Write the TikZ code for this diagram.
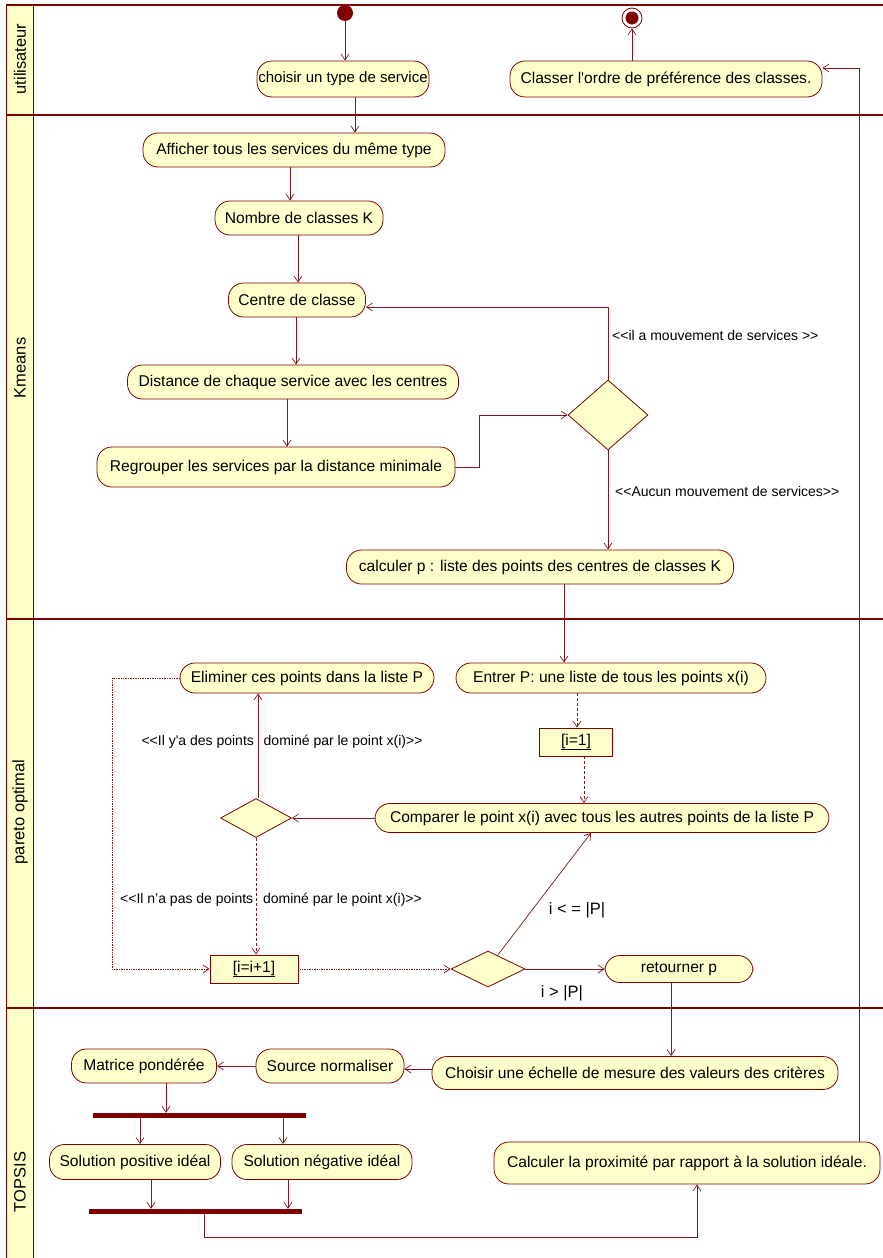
\documentclass[tikz,border=0pt]{standalone}
\usepackage{fontspec}
\setmainfont{Liberation Sans}[Ligatures=TeXOff]
\usetikzlibrary{arrows.meta,shapes.geometric}

\definecolor{umlred}{RGB}{128,0,0}
\definecolor{umlfill}{RGB}{255,255,204}
\definecolor{lanefill}{RGB}{255,255,200}
\definecolor{wire}{RGB}{128,24,24}

\tikzset{
  act/.style={draw=umlred, fill=umlfill, line width=0.8pt, rounded corners=15pt,
    inner sep=1pt, font=\fontsize{15.6}{17}\selectfont},
  guardbox/.style={draw=umlred, fill=umlfill, line width=0.8pt,
    inner sep=2pt, font=\fontsize{15.6}{17}\selectfont},
  decision/.style={diamond, draw=umlred, fill=umlfill, line width=0.8pt, inner sep=0pt},
  syncbar/.style={fill=umlred, inner sep=0pt, minimum height=5pt},
  flow/.style={draw=wire, line width=0.7pt, -{Straight Barb[length=6pt,width=8pt]}},
  dashflow/.style={flow, dash pattern=on 3pt off 2pt},
  dotflow/.style={flow, densely dotted},
  guard/.style={font=\fontsize{14}{16}\selectfont, inner sep=0pt},
  cond/.style={font=\fontsize{16.5}{18}\selectfont, inner sep=0pt},
  lanetitle/.style={rotate=90, font=\fontsize{16.5}{18}\selectfont, inner sep=0pt},
  lanesep/.style={draw=umlred, line width=2.4pt},
}

\begin{document}
\begin{tikzpicture}[x=1pt, y=-1pt]
\useasboundingbox (0,0) rectangle (883,1258);

% swimlanes
\fill[white] (0,0) rectangle (883,1258);
\draw[umlred, line width=1pt, fill=lanefill] (6,5) rectangle (33,1262);
\draw[lanesep] (6,5) -- (883,5);
\draw[lanesep] (6,115) -- (883,115);
\draw[lanesep] (6,619) -- (883,619);
\draw[lanesep] (6,1008) -- (883,1008);
\node[lanetitle] (lane1) at (20,59) {utilisateur};
\node[lanetitle] (lane2) at (20,368) {Kmeans};
\node[lanetitle] (lane3) at (20,812) {pareto optimal};
\node[lanetitle] (lane4) at (20,1182) {TOPSIS};

% utilisateur
\node[circle, fill=umlred, minimum size=16pt, inner sep=0pt] (start) at (345,13) {};
\node[circle, draw=umlred, fill=white, line width=0.8pt, minimum size=20pt, inner sep=0pt] (final) at (632,18) {};
\fill[umlred] (final.center) circle (6.5pt);
\node[act, minimum width=172pt, minimum height=36pt, font=\fontsize{15}{17}\selectfont] (choisir) at (343,79) {choisir un type de service};
\node[act, minimum width=312pt, minimum height=36pt] (classer) at (666,79) {Classer l'ordre de préférence des classes.};

% Kmeans
\node[act, minimum width=302pt, minimum height=34pt] (afficher) at (294,150) {Afficher tous les services du même type};
\node[act, minimum width=168pt, minimum height=34pt] (nombre) at (299,218) {Nombre de classes K};
\node[act, minimum width=137pt, minimum height=34pt] (centre) at (297,300) {Centre de classe};
\node[act, minimum width=331pt, minimum height=34pt] (distance) at (293,382) {Distance de chaque service avec les centres};
\node[act, minimum width=358pt, minimum height=40pt] (regrouper) at (276,467) {Regrouper les services par la distance minimale};
\node[decision, minimum width=80pt, minimum height=70pt] (dec1) at (608,415) {};
\node[act, minimum width=387pt, minimum height=34pt] (calculer) at (540,567) {calculer p : liste des points des centres de classes K};

% pareto optimal
\node[act, minimum width=254pt, minimum height=30pt] (eliminer) at (307,678) {Eliminer ces points dans la liste P};
\node[act, minimum width=310pt, minimum height=30pt] (entrer) at (611,678) {Entrer P: une liste de tous les points x(i)};
\node[guardbox, minimum width=73pt, minimum height=28pt] (init) at (576,742) {\underline{[i=1]}};
\node[act, minimum width=454pt, minimum height=29pt] (comparer) at (602,818) {Comparer le point x(i) avec tous les autres points de la liste P};
\node[decision, minimum width=71pt, minimum height=39pt] (dec2) at (256,818) {};
\node[guardbox, minimum width=88pt, minimum height=28pt] (incr) at (254,969) {\underline{[i=i+1]}};
\node[decision, minimum width=74pt, minimum height=36pt] (dec3) at (488,969) {};
\node[act, minimum width=148pt, minimum height=27pt] (retourner) at (679,969) {retourner p};

% TOPSIS
\node[act, minimum width=406pt, minimum height=33pt] (echelle) at (635,1073) {Choisir une échelle de mesure des valeurs des critères};
\node[act, minimum width=148pt, minimum height=34pt] (source) at (330,1066) {Source normaliser};
\node[act, minimum width=145pt, minimum height=34pt] (matrice) at (144,1066) {Matrice pondérée};
\node[syncbar, minimum width=213pt] (fork) at (199.5,1115.5) {};
\node[act, minimum width=171pt, minimum height=35pt] (solpos) at (135,1162) {Solution positive idéal};
\node[act, minimum width=180pt, minimum height=35pt] (solneg) at (322,1162) {Solution négative idéal};
\node[syncbar, minimum width=213pt] (join) at (195.5,1211.5) {};
\node[act, minimum width=386pt, minimum height=42pt] (proximite) at (687,1163) {Calculer la proximité par rapport à la solution idéale.};

% flows: utilisateur / Kmeans
\draw[flow] (start) -- (start |- choisir.north);
\draw[flow] (choisir.south -| 355,0) -- (afficher.north -| 355,0);
\draw[flow] (afficher.south -| 290,0) -- (nombre.north -| 290,0);
\draw[flow] (nombre.south -| 298,0) -- (centre.north -| 298,0);
\draw[flow] (centre.south -| 296,0) -- (distance.north -| 296,0);
\draw[flow] (distance.south -| 287,0) -- (regrouper.north -| 287,0);
\draw[flow] (regrouper.east) -- (regrouper.east -| 479,0) |- (dec1.west);
\draw[flow] (dec1.north) |- (centre.east |- 0,307);
\node[guard, anchor=west] (gmove) at (612,335) {<<il a mouvement de services >>};
\draw[flow] (dec1.south) -- (dec1.south |- calculer.north);
\node[guard, anchor=west] (gnomove) at (615,491) {<<Aucun mouvement de services>>};

% flows: pareto optimal
\draw[flow] (calculer.south -| 564,0) -- (entrer.north -| 564,0);
\draw[dashflow] (entrer.south -| 577,0) -- (init.north -| 577,0);
\draw[dashflow] (init.south -| 584,0) -- (comparer.north -| 584,0);
\draw[flow] (comparer.west) -- (dec2.east);
\draw[flow] (dec2.north -| 258,0) -- (eliminer.south -| 258,0);
\node[guard] (gdom) at (282,742) {<<Il y'a des points\hspace{0.7em}dominé par le point x(i)>>};
\draw[dashflow] (dec2.south) -- (dec2.south |- incr.north);
\node[guard] (gnodom) at (271,900) {<<Il n’a pas de points\hspace{0.7em}dominé par le point x(i)>>};
\draw[dotflow] (eliminer.west) -- (eliminer.west -| 112,0) |- (incr.west);
\draw[dotflow] (incr.east) -- (dec3.west);
\draw[flow] (dec3.55) -- (comparer.south -| 591,0);
\node[cond] (gle) at (577,910) {i < = |P|};
\draw[flow] (dec3.east) -- (retourner.west);
\node[cond] (ggt) at (562,993) {i > |P|};

% flows: TOPSIS
\draw[flow] (retourner.south -| 671,0) -- (echelle.north -| 671,0);
\draw[flow] (echelle.west |- 0,1069) -- (source.east |- 0,1069);
\draw[flow] (source.west) -- (matrice.east);
\draw[flow] (matrice.south -| 166,0) -- (fork.north -| 166,0);
\draw[flow] (fork.south -| 140,0) -- (solpos.north -| 140,0);
\draw[flow] (fork.south -| 283,0) -- (solneg.north -| 283,0);
\draw[flow] (solpos.south -| 151,0) -- (join.north -| 151,0);
\draw[flow] (solneg.south -| 288,0) -- (join.north -| 288,0);
\draw[flow] (join.south -| 204,0) |- (697,1237) -- (proximite.south -| 697,0);
\draw[flow] (proximite.north -| 859,0) -- (859,68) -- (classer.east |- 0,68);
\draw[flow] (classer.north -| 632,0) -- (final.south);
\end{tikzpicture}
\end{document}
